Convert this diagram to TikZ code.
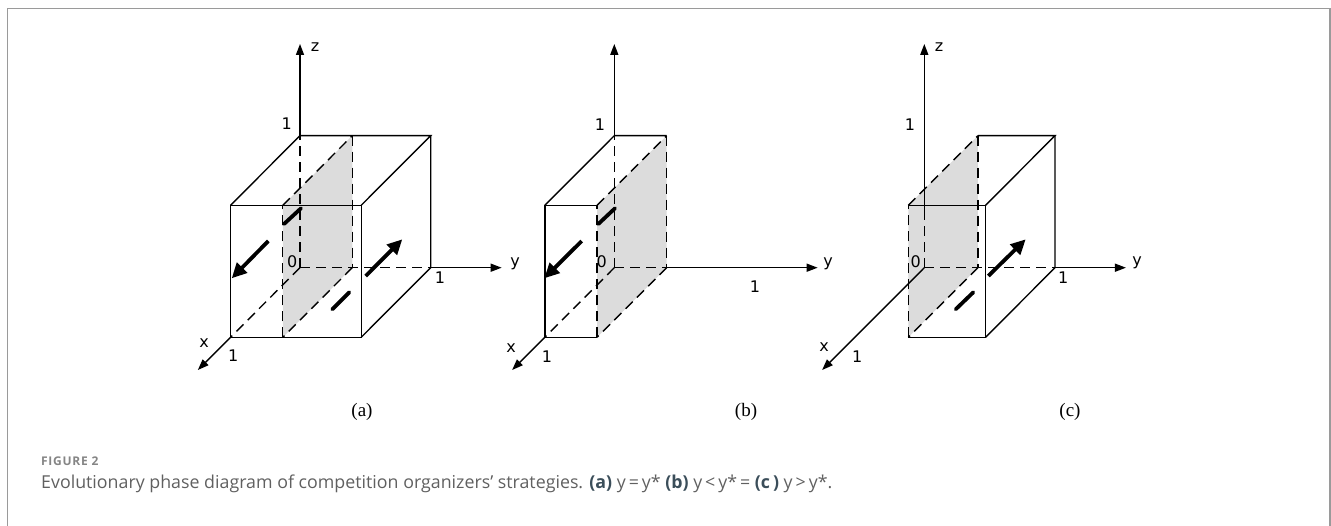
\documentclass[tikz,border=0pt]{standalone}
\usepackage{fontspec}
\setmainfont{Liberation Serif}
\newfontfamily\axisfont{DejaVu Sans}
\newfontfamily\capfont{Open Sans}
\newfontfamily\figfont[LetterSpace=6]{Open Sans}
\usetikzlibrary{arrows.meta}
\definecolor{framegray}{HTML}{9A9A9A}
\definecolor{capgray}{HTML}{606060}
\definecolor{figgray}{HTML}{858585}
\definecolor{capdark}{HTML}{3B4E5A}
\definecolor{planegray}{HTML}{DCDCDC}
\begin{document}
\begin{tikzpicture}[x=1pt,y=1pt,
  edge/.style={line width=1.4pt, black},
  hidden/.style={line width=1.4pt, dash pattern=on 10pt off 6pt},
  axisarrow/.style={line width=1.4pt, -{Triangle[length=11pt,width=8pt]}},
  flow/.style={line width=3.8pt, -{Triangle[length=15pt,width=14pt]}},
  flowbar/.style={line width=3.8pt, line cap=round},
  lab/.style={font=\axisfont\fontsize{16}{18}\selectfont, inner sep=0pt},
  panellab/.style={font=\fontsize{19}{21}\selectfont, inner sep=0pt},
  plane/.style={fill=planegray, draw=none},
  cube3d/.style={x={(-69.5pt,-69.6pt)}, y={(130.7pt,0pt)}, z={(0pt,132pt)}}
]
\useasboundingbox (0,0) rectangle (1331,-526);
\draw[framegray, line width=1.2pt] (7.5,-526) -- (7.5,-8.5) -- (1330,-8.5) -- (1330,-526);

% ---------------- panel (a) ----------------
\begin{scope}[shift={(300pt,-267.7pt)}, cube3d]
  \coordinate (aO) at (0,0,0);
  \coordinate (aX) at (1,0,0);
  \coordinate (aY) at (0,1,0);
  \coordinate (aZ) at (0,0,1);
  \coordinate (aXY) at (1,1,0);
  \coordinate (aXZ) at (1,0,1);
  \coordinate (aYZ) at (0,1,1);
  \coordinate (aXYZ) at (1,1,1);
  \coordinate (aP0) at (0,0.4,0);
  \coordinate (aP1) at (1,0.4,0);
  \coordinate (aP2) at (1,0.4,1);
  \coordinate (aP3) at (0,0.4,1);
  \coordinate (aXt) at (1.47,0,0);
  \coordinate (aYt) at (0,1.543,0);
  \coordinate (aZt) at (0,0,1.695);
  \fill[plane] (aP0) -- (aP1) -- (aP2) -- (aP3) -- cycle;
  \draw[hidden] (aO) -- (aX);
  \draw[hidden] (aO) -- (aY);
  \draw[hidden] (aO) -- (aZ);
  \draw[hidden] (aP0) -- (aP1);
  \draw[hidden] (aP1) -- (aP2);
  \draw[hidden] (aP2) -- (aP3);
  \draw[hidden] (aP3) -- (aP0);
  \draw[edge] (aX) -- (aXY) -- (aXYZ) -- (aXZ) -- cycle;
  \draw[edge] (aXZ) -- (aZ) -- (aYZ) -- (aXYZ);
  \draw[edge] (aYZ) -- (aY) -- (aXY);
  \draw[axisarrow] (aZ) -- (aZt);
  \draw[axisarrow] (aY) -- (aYt);
  \draw[axisarrow] (aX) -- (aXt);
\end{scope}
\coordinate (aF1s) at (268.3,-241);
\coordinate (aF1e) at (231.7,-278.3);
\coordinate (aF2s) at (365.7,-276);
\coordinate (aF2e) at (402.3,-239.3);
\coordinate (aB1s) at (284,-224);
\coordinate (aB1e) at (301,-208.3);
\coordinate (aB2s) at (332.3,-309.3);
\coordinate (aB2e) at (349.3,-292.3);
\draw[flow] (aF1s) -- (aF1e);
\draw[flow] (aF2s) -- (aF2e);
\draw[flowbar] (aB1s) -- (aB1e);
\draw[flowbar] (aB2s) -- (aB2e);
\node[lab] (aLz) at (315,-47) {z};
\node[lab] (aLy) at (515,-264) {y};
\node[lab] (aLx) at (204,-342.7) {x};
\node[lab] (aL1z) at (286.7,-124) {1};
\node[lab] (aL1y) at (440,-278) {1};
\node[lab] (aL1x) at (233.3,-356) {1};
\node[lab] (aL0) at (292.3,-261.7) {0};
\node[panellab] (aCap) at (362,-412) {(a)};

% ---------------- panel (b) ----------------
\begin{scope}[shift={(614.3pt,-267.7pt)}, cube3d]
  \coordinate (bO) at (0,0,0);
  \coordinate (bX) at (1,0,0);
  \coordinate (bZ) at (0,0,1);
  \coordinate (bXZ) at (1,0,1);
  \coordinate (bP0) at (0,0.4,0);
  \coordinate (bP1) at (1,0.4,0);
  \coordinate (bP2) at (1,0.4,1);
  \coordinate (bP3) at (0,0.4,1);
  \coordinate (bXt) at (1.47,0,0);
  \coordinate (bYt) at (0,1.556,0);
  \coordinate (bZt) at (0,0,1.695);
  \fill[plane] (bP0) -- (bP1) -- (bP2) -- (bP3) -- cycle;
  \draw[hidden] (bO) -- (bX);
  \draw[hidden] (bO) -- (bP0);
  \draw[hidden] (bO) -- (bZ);
  \draw[hidden] (bP0) -- (bP1);
  \draw[hidden] (bP1) -- (bP2);
  \draw[hidden] (bP2) -- (bP3);
  \draw[hidden] (bP3) -- (bP0);
  \draw[edge] (bP1) -- (bX) -- (bXZ) -- (bP2);
  \draw[edge] (bXZ) -- (bZ) -- (bP3);
  \draw[axisarrow] (bZ) -- (bZt);
  \draw[axisarrow] (bP0) -- (bYt);
  \draw[axisarrow] (bX) -- (bXt);
\end{scope}
\coordinate (bF1s) at (581.7,-241);
\coordinate (bF1e) at (544.3,-278.3);
\coordinate (bB1s) at (598.3,-224);
\coordinate (bB1e) at (615,-208.3);
\draw[flow] (bF1s) -- (bF1e);
\draw[flowbar] (bB1s) -- (bB1e);
\node[lab] (bLy) at (828,-264) {y};
\node[lab] (bLx) at (511,-348) {x};
\node[lab] (bL1z) at (600,-125) {1};
\node[lab] (bL1y) at (755,-286.7) {1};
\node[lab] (bL1x) at (547,-357) {1};
\node[lab] (bL0) at (601.7,-261.7) {0};
\node[panellab] (bCap) at (746,-412) {(b)};

% ---------------- panel (c) ----------------
\begin{scope}[shift={(924.3pt,-267.7pt)}, cube3d]
  \coordinate (cO) at (0,0,0);
  \coordinate (cY) at (0,1,0);
  \coordinate (cXY) at (1,1,0);
  \coordinate (cYZ) at (0,1,1);
  \coordinate (cXYZ) at (1,1,1);
  \coordinate (cP0) at (0,0.41,0);
  \coordinate (cP1) at (1,0.41,0);
  \coordinate (cP2) at (1,0.41,1);
  \coordinate (cP3) at (0,0.41,1);
  \coordinate (cZm) at (0,0,0.4);
  \coordinate (cXt) at (1.47,0,0);
  \coordinate (cYt) at (0,1.543,0);
  \coordinate (cZt) at (0,0,1.695);
  \fill[plane] (cP0) -- (cP1) -- (cP2) -- (cP3) -- cycle;
  \draw[hidden] (cO) -- (cZm);
  \draw[hidden] (cO) -- (cY);
  \draw[hidden] (cP0) -- (cP1);
  \draw[hidden] (cP1) -- (cP2);
  \draw[hidden] (cP2) -- (cP3);
  \draw[hidden] (cP3) -- (cP0);
  \draw[edge] (cP2) -- (cXYZ) -- (cXY) -- (cP1);
  \draw[edge] (cP3) -- (cYZ) -- (cXYZ);
  \draw[edge] (cYZ) -- (cY) -- (cXY);
  \draw[axisarrow] (cZm) -- (cZt);
  \draw[axisarrow] (cY) -- (cYt);
  \draw[axisarrow] (cO) -- (cXt);
\end{scope}
\coordinate (cF1s) at (988.3,-276);
\coordinate (cF1e) at (1025.7,-239.3);
\coordinate (cB1s) at (955.7,-309.3);
\coordinate (cB1e) at (973.3,-292.3);
\draw[flow] (cF1s) -- (cF1e);
\draw[flowbar] (cB1s) -- (cB1e);
\node[lab] (cLz) at (939,-47) {z};
\node[lab] (cLy) at (1137,-263) {y};
\node[lab] (cLx) at (824,-347) {x};
\node[lab] (cL1z) at (910,-125) {1};
\node[lab] (cL1y) at (1063.3,-277.3) {1};
\node[lab] (cL1x) at (857.3,-356.7) {1};
\node[lab] (cL0) at (915.7,-261.7) {0};
\node[panellab] (cCap) at (1070,-412) {(c)};

% ---------------- caption ----------------
\node[anchor=base west, inner sep=0pt, text=figgray, font=\figfont\bfseries\fontsize{12}{14}\selectfont] (figno) at (41,-465.7) {FIGURE 2};
\node[anchor=base west, inner sep=0pt, text=capgray, font=\capfont\fontsize{17.8}{20}\selectfont] (captext) at (41,-488)
  {Evolutionary phase diagram of competition organizers’ strategies. \textcolor{capdark}{\bfseries(a)} y\,=\,y* \textcolor{capdark}{\bfseries(b)} y\,<\,y*\,= \textcolor{capdark}{\bfseries(c\,)} y\,>\,y*.};
\end{tikzpicture}
\end{document}
